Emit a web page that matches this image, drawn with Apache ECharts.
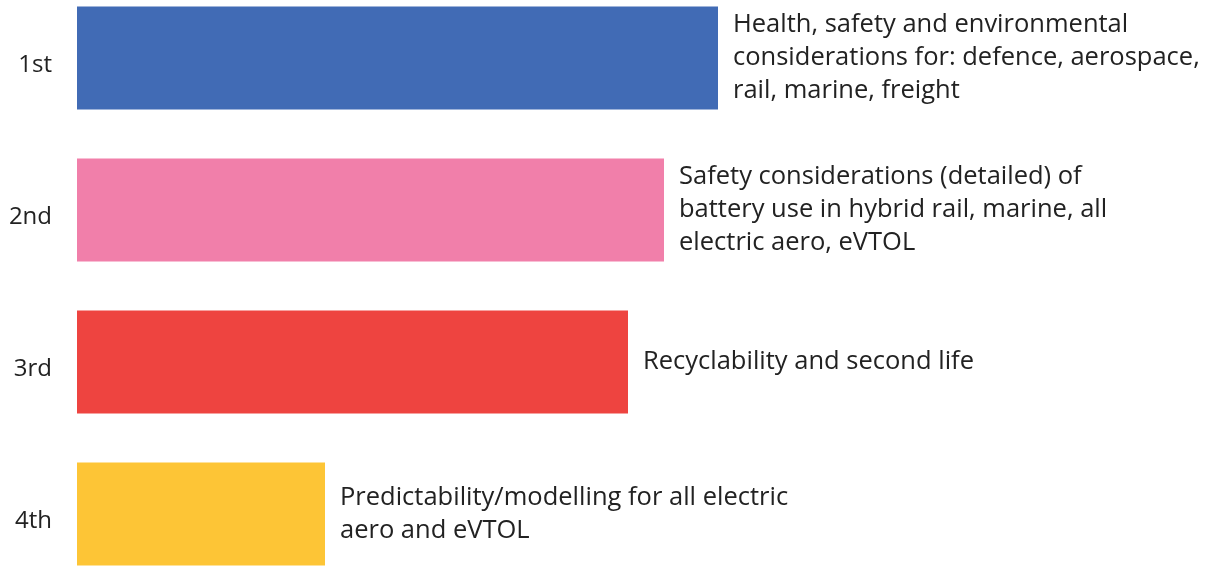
<!DOCTYPE html>
<html>
<head>
<meta charset="utf-8">
<script src="https://cdn.jsdelivr.net/npm/echarts@6/dist/echarts.min.js"></script>
<style>html,body{margin:0;padding:0;background:#fff;overflow:hidden;}#c{position:absolute;left:0;top:-18px;width:1205px;height:608px;}</style>
</head>
<body>
<div id="c"></div>
<script>
const categories = ['1st', '2nd', '3rd', '4th'];
const values = [64.1, 58.7, 55.1, 24.8];
const labels = [
  'Health, safety and environmental\nconsiderations for: defence, aerospace,\nrail, marine, freight',
  'Safety considerations (detailed) of\nbattery use in hybrid rail, marine, all\nelectric aero, eVTOL',
  'Recyclability and second life',
  'Predictability/modelling for all electric\naero and eVTOL'
];
const colors = ['#416BB5', '#F17FAA', '#EE4440', '#FDC536'];

const chart = echarts.init(document.getElementById('c'), null, {renderer: 'canvas'});
chart.setOption({
  animation: false,
  grid: {left: 77, right: 128, top: 0, bottom: 0, containLabel: false},
  xAxis: {type: 'value', min: 0, max: 100, show: false},
  yAxis: {
    type: 'category', data: categories, inverse: true,
    axisLine: {show: false}, axisTick: {show: false}, splitLine: {show: false},
    axisLabel: {
      margin: 25, color: '#222',
      formatter: '{a|{value}}',
      rich: {a: {fontSize: 24, color: '#222', fontFamily: 'Open Sans', padding: [14, 0, 0, 0]}}
    }
  },
  series: [{
    type: 'bar',
    barWidth: 103,
    data: values.map((v, i) => ({value: v, itemStyle: {color: colors[i]}, label: {formatter: labels[i]}})),
    label: {
      show: true, position: 'right', distance: 15,
      fontSize: 25.5, lineHeight: 33, color: '#222', fontFamily: 'Open Sans', align: 'left'
    }
  }]
});
</script>
</body>
</html>
